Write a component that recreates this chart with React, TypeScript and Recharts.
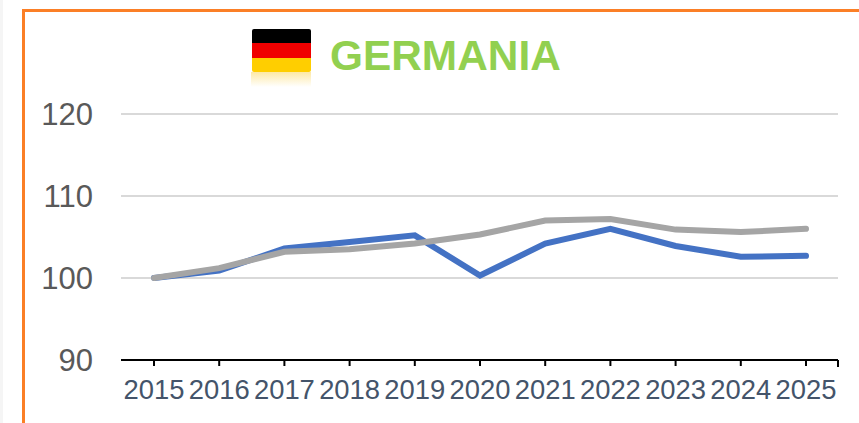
import React from 'react';
import { LineChart, Line, XAxis, YAxis, CartesianGrid } from 'recharts';

const years = ['2015', '2016', '2017', '2018', '2019', '2020', '2021', '2022', '2023', '2024', '2025'];
const blueSeries = [100, 100.9, 103.6, 104.4, 105.2, 100.3, 104.2, 106.0, 103.9, 102.6, 102.7];
const graySeries = [100, 101.2, 103.2, 103.5, 104.2, 105.3, 107.0, 107.2, 105.9, 105.6, 106.0];
const yTicks = [90, 100, 110, 120];

const data = years.map((year, i) => ({ year, blue: blueSeries[i], gray: graySeries[i] }));

const FONT = '"Liberation Sans", Arial, sans-serif';

export default function App() {
  return (
    <div style={{ position: 'absolute', left: 0, top: 0, width: 859, height: 423, overflow: 'hidden', background: '#fff' }}>
      {/* faint grey strip at the left edge of the picture */}
      <div style={{ position: 'absolute', left: 0, top: 0, width: 3, height: 423, background: '#F5F5F5' }} />

      {/* orange frame, runs off the right and bottom of the picture */}
      <div style={{ position: 'absolute', left: 22, top: 9, width: 900, height: 500, border: '3px solid #FB7F26' }} />

      <LineChart
        width={859}
        height={423}
        data={data}
        margin={{ top: 114, right: 21, bottom: 0, left: 0 }}
        style={{ position: 'absolute', left: 0, top: 0 }}
      >
        <CartesianGrid horizontal vertical={false} stroke="#D9D9D9" strokeWidth={2} />
        <XAxis
          dataKey="year"
          height={63}
          interval={0}
          padding={{ left: 33, right: 32 }}
          tickSize={6}
          tickMargin={14}
          axisLine={{ stroke: '#000', strokeWidth: 2 }}
          tickLine={{ stroke: '#000', strokeWidth: 2 }}
          tick={{ fill: '#44546A', fontSize: 27.4, fontFamily: FONT }}
        />
        <YAxis
          width={121}
          domain={[90, 120]}
          ticks={yTicks}
          axisLine={false}
          tickLine={false}
          tickMargin={22}
          tick={{ fill: '#595959', fontSize: 31, fontFamily: FONT }}
        />
        <Line dataKey="blue" stroke="#4472C4" strokeWidth={6} strokeLinecap="round" dot={false} isAnimationActive={false} />
        <Line dataKey="gray" stroke="#A5A5A5" strokeWidth={6} strokeLinecap="round" dot={false} isAnimationActive={false} />
      </LineChart>

      {/* closing tick at the right end of the axis */}
      <div style={{ position: 'absolute', left: 837, top: 360, width: 2, height: 7, background: '#000' }} />

      {/* flag with its fading reflection */}
      <div style={{ position: 'absolute', left: 252, top: 29, width: 59, height: 14, background: '#000', borderRadius: '2px 2px 0 0' }} />
      <div style={{ position: 'absolute', left: 252, top: 43, width: 59, height: 15, background: '#F00000' }} />
      <div style={{ position: 'absolute', left: 252, top: 58, width: 59, height: 14, background: '#FFCE00', borderRadius: '0 0 2px 2px' }} />
      <div style={{ position: 'absolute', left: 251, top: 72, width: 60, height: 15, background: 'linear-gradient(#FDE9A6, #FFFFFF)' }} />

      <div
        style={{
          position: 'absolute',
          left: 330,
          top: 32,
          fontFamily: FONT,
          fontWeight: 700,
          fontSize: 42.4,
          lineHeight: '48px',
          color: '#92D050',
          whiteSpace: 'nowrap',
        }}
      >
        GERMANIA
      </div>
    </div>
  );
}
